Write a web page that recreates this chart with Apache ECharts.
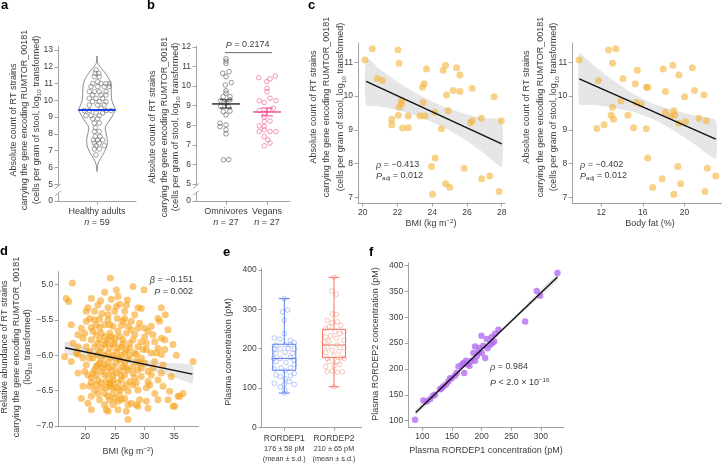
<!DOCTYPE html>
<html><head><meta charset="utf-8">
<script src="https://cdn.jsdelivr.net/npm/echarts@6/dist/echarts.min.js"></script>
<style>html,body{margin:0;padding:0;background:#fff}#c{width:722px;height:465px}</style>
</head><body><div id="c"></div>
<script>
// ---------- DATA ----------
// panel a: healthy adults (log10 cells/g)
const aValues = [11.81,11.61,11.61,11.41,11.41,11.11,11.0,11.0,11.0,11.0,10.82,10.82,10.82,10.82,10.52,10.52,10.52,10.52,10.32,10.32,10.32,10.12,10.12,10.12,9.92,9.92,9.92,9.72,9.72,9.72,9.53,9.39,9.39,9.39,9.39,9.25,9.25,9.09,9.09,9.09,8.90,8.90,8.64,8.64,8.38,8.14,8.14,7.84,7.84,7.64,7.64,7.64,7.45,7.45,7.30,7.30,7.10,7.10,6.75];
const aJitter = [-1,-1.7,1.7,-2.7,2.3,0.7,-4.3,4,9,12.3,-6,0.7,7.3,12.3,-7.7,-2.7,2.3,9,-4.3,4,9,-7.7,-1,5.7,-4.3,2.3,9,-7.7,0.7,7.3,4,-12.7,-7.7,9,14,-1,5.7,-11,-6,2.3,-4.3,0.7,-2.7,2.3,-1.7,-2.7,2.3,-1.7,3,-3.7,0.7,5.7,-2.7,2.3,-1,7.3,-2.7,2.3,-1];
const aViolinY    = [5.76,6.0,6.25,6.55,6.85,7.25,7.65,8.05,8.40,8.73,9.03,9.25,9.43,9.65,10.0,10.4,10.8,11.2,11.6,11.9,12.2,12.64];
const aViolinHalf = [0,0.4,1.2,3.7,6.7,9.7,10.3,9.0,8.3,11.7,15,17,18.5,17,14.8,14.3,14,12.5,8.5,4.5,0.8,0];
const aMedian = 9.43;
const aYTicks = [4,5,6,7,8,9,10,11,12,13];

// panel b: omnivores vs vegans
const bOmniVal = [11.40,11.28,11.16,10.66,10.74,10.48,10.18,10.06,9.76,9.64,9.46,9.46,9.26,9.30,9.12,8.96,8.96,8.70,8.72,8.53,8.11,7.93,8.02,7.77,7.56,6.23,6.25];
const bOmniJit = [0,0,0,-3.3,3,0,5.3,-0.7,0,0,-2.7,4,-5.3,4,0,-5.3,2.3,-2.7,4,0,-6,-6,0,0,0,-2.7,2.7];
const bVeganVal = [10.43,10.52,10.23,10.37,9.89,9.72,9.26,9.26,9.16,9.38,8.75,8.79,8.62,8.87,8.19,8.22,7.97,7.93,7.77,7.68,7.68,7.68,7.42,7.26,7.09,6.95,8.42];
const bVeganJit = [-8.3,8.3,-0.3,3,0,0,-7.7,9,-2.7,3,-7.7,1.7,-2.7,6.3,-2.7,3,-7.7,-2.7,-2.7,-7.7,3,9,-2.7,0.7,3,-2.7,-2.7];
const bMean = [9.09, 8.68];
const bSemLo = [8.88, 8.48];
const bSemHi = [9.30, 8.88];
const bCategories = ['Omnivores', 'Vegans'];
const bCatPos = [30, 71];
const bYTicks = [4.13,5,6,7,8,9,10,11,12];

// panel c: BMI and body fat
const c1X = [20.13,20.55,20.84,21.13,22.03,22.09,21.67,21.67,22.05,22.1,22.24,22.24,22.3,22.62,22.62,23.29,23.58,23.48,23.44,23.54,23.67,24.15,24.53,24.17,23.96,24.02,24.63,24.77,24.82,24.92,24.77,25.01,25.21,25.40,25.59,25.59,25.84,26.3,26.2,26.3,26.83,26.85,27.31,27.56,27.85,27.98];
const c1Y = [11.07,11.40,10.52,10.46,11.36,10.97,9.31,9.15,9.43,9.67,9.86,9.77,9.05,9.41,9.06,9.41,9.41,9.81,10.26,10.36,10.80,9.52,9.03,8.16,7.91,7.09,10.76,10.91,10.03,9.56,7.40,7.30,10.16,10.84,10.62,10.13,7.86,10.23,9.21,9.27,9.34,7.55,7.63,9.98,7.17,9.27];
const c1BandX  = [20.2,21,22,23,24,25,26,27,28];
const c1BandLo = [9.73,9.69,9.58,9.44,9.23,8.98,8.67,8.30,7.90];
const c1BandHi = [11.13,10.79,10.42,10.10,9.83,9.62,9.45,9.34,9.30];
const c1FitX = [20.2, 28];
const c1FitY = [10.43, 8.58];

const c2X = [9.88,11.74,11.58,12.29,12.71,13.41,13.09,13.09,12.96,13.19,14.09,13.90,14.57,15.12,15.28,15.47,15.34,15.83,16.34,16.47,16.34,16.47,16.95,17.85,17.95,18.17,18.17,18.66,18.88,18.98,19.07,19.36,19.46,19.46,19.62,18.98,20.01,20.10,20.97,20.75,21.39,21.87,21.97,22.10,22.19,23.0];
const c2Y = [11.07,10.46,9.04,9.15,11.36,11.40,10.97,9.67,9.43,9.31,10.52,9.86,9.43,9.06,10.36,10.76,9.81,9.76,10.26,10.26,9.03,8.16,7.29,7.55,10.80,10.13,9.52,9.41,10.91,9.56,9.43,7.91,9.19,10.62,7.40,7.09,9.98,9.24,10.16,10.84,9.34,10.03,7.17,9.27,7.86,7.63];
const c2BandX  = [9.9,11,13,15,17,19,21,23];
const c2BandLo = [9.75,9.74,9.66,9.54,9.31,8.97,8.56,8.14];
const c2BandHi = [11.27,10.98,10.50,10.08,9.77,9.57,9.42,9.28];
const c2FitX = [9.9, 23];
const c2FitY = [10.51, 8.72];

// panel d: BMI vs relative abundance
const dPoints = [
[24.23,-4.91],[17.80,-4.98],[28.06,-5.03],[29.92,-5.08],
[25.24,-5.08],[23.27,-5.11],[16.79,-5.20],[17.18,-5.24],[21.02,-5.20],[22.60,-5.23],[24.40,-5.21],[27.11,-5.22],[25.53,-5.17],
[20.45,-5.33],[22.14,-5.29],[25.81,-5.28],[28.91,-5.33],[29.47,-5.34],[23.84,-5.33],[20.17,-5.38],[21.58,-5.38],[22.82,-5.41],[24.96,-5.38],[26.65,-5.38],[33.53,-5.43],[32.29,-5.48],
[17.63,-5.57],[20.74,-5.48],[22.43,-5.49],[23.84,-5.50],[25.41,-5.48],[26.65,-5.48],[27.78,-5.52],[29.19,-5.55],[30.60,-5.66],[31.16,-5.59],[32.57,-5.52],[33.98,-5.64],[21.86,-5.57],[23.27,-5.57],[24.68,-5.59],[26.09,-5.58],[27.22,-5.59],[28.91,-5.62],[30.04,-5.62],[19.33,-5.62],[21.02,-5.61],
[19.89,-5.69],[21.30,-5.66],[22.71,-5.69],[24.12,-5.69],[25.53,-5.66],[26.94,-5.69],[28.35,-5.71],[30.04,-5.74],[31.45,-5.71],[32.85,-5.76],[19.61,-5.76],[21.02,-5.78],[22.43,-5.78],[23.84,-5.78],[24.96,-5.76],[26.37,-5.78],[28.06,-5.78],[29.47,-5.81],[31.73,-5.81],[33.42,-5.78],[34.83,-5.85],
[17.92,-5.83],[18.76,-5.88],[20.17,-5.88],[21.58,-5.88],[23.27,-5.85],[24.68,-5.85],[26.09,-5.88],[27.50,-5.90],[28.91,-5.88],[30.32,-5.92],[32.29,-5.90],[20.74,-5.95],[22.43,-5.95],[23.84,-5.97],[25.24,-5.95],[26.65,-5.97],[28.34,-5.97],[31.16,-5.97],[32.85,-5.99],[16.51,-6.02],[18.76,-5.99],
[17.63,-6.09],[19.61,-6.04],[21.30,-6.04],[22.71,-6.06],[24.40,-6.04],[25.81,-6.06],[27.22,-6.06],[28.63,-6.09],[30.04,-6.11],[31.73,-6.09],[33.14,-6.14],[35.39,-6.00],[38.21,-6.09],[20.17,-6.14],[21.86,-6.16],[23.27,-6.14],[24.68,-6.16],[26.37,-6.16],[28.06,-6.16],[29.47,-6.18],[18.76,-6.25],
[19.89,-6.23],[21.30,-6.25],[22.71,-6.23],[23.84,-6.28],[25.24,-6.25],[26.65,-6.28],[28.06,-6.25],[29.47,-6.30],[31.16,-6.28],[32.85,-6.25],[34.55,-6.30],[21.02,-6.32],[22.14,-6.35],[23.55,-6.37],[24.68,-6.35],[26.09,-6.35],[27.50,-6.37],[28.63,-6.39],[30.60,-6.37],[32.29,-6.35],
[19.61,-6.44],[20.74,-6.44],[21.86,-6.42],[22.71,-6.46],[24.12,-6.44],[25.24,-6.46],[26.37,-6.46],[27.22,-6.51],[28.91,-6.49],[30.32,-6.46],[31.73,-6.54],[33.14,-6.44],[34.26,-6.51],[35.67,-6.58],[36.52,-6.54],[23.27,-6.54],[24.68,-6.54],[25.81,-6.56],[22.14,-6.54],
[19.33,-6.61],[21.02,-6.58],[22.43,-6.63],[24.12,-6.63],[25.53,-6.65],[26.65,-6.61],[27.78,-6.68],[29.19,-6.63],[30.32,-6.65],[32.29,-6.63],[33.98,-6.63],[35.96,-6.58],[20.45,-6.68],[23.27,-6.70],[24.68,-6.70],[27.22,-6.70],[28.63,-6.70],
[21.02,-6.77],[23.55,-6.77],[23.84,-6.79],[25.53,-6.77],[26.94,-6.79],[28.91,-6.72],[30.60,-6.75],[34.83,-6.72],[35.11,-6.72],[27.22,-6.91],
[21.86,-5.71],[23.27,-5.74],[24.40,-5.74],[25.81,-5.74],[22.14,-5.83],[23.55,-5.83],[24.96,-5.83],[26.37,-5.84],[22.71,-5.90],[24.12,-5.90],[25.53,-5.90],[26.94,-5.92],
[22.03,-5.99],[23.27,-6.00],[24.68,-6.00],[26.09,-6.00],[27.50,-6.00],[22.43,-6.11],[23.84,-6.10],[25.24,-6.11],[26.65,-6.11],[21.58,-6.21],[22.99,-6.18],[24.40,-6.21],
[25.81,-6.21],[27.22,-6.21],[21.86,-6.28],[23.27,-6.28],[24.68,-6.29],[26.09,-6.29],[22.71,-6.39],[24.12,-6.39],[25.53,-6.39],[26.94,-6.42],[23.55,-6.46],[24.68,-6.46],
[25.81,-6.49],[23.84,-6.58],[24.96,-6.61],[26.09,-6.63],[21.58,-6.49],[28.35,-6.32],[28.06,-6.42],[29.47,-6.04],[29.75,-5.92],[28.91,-6.21],[20.74,-6.04],[20.45,-6.28],
[21.02,-6.39],[30.60,-6.23],[31.45,-6.18],[30.32,-5.83],[20.17,-5.52],[26.37,-5.52],[28.35,-5.43],[23.84,-5.43],[26.94,-5.29],[25.24,-5.31],[21.58,-5.50],[18.76,-5.71],
[18.48,-5.97],[30.88,-6.42],[32.01,-5.97],[33.42,-5.92],[32.85,-5.33],[27.78,-5.64],[24.12,-5.57],[22.43,-5.61],[28.63,-5.99],[29.19,-6.11],[27.50,-5.83],[25.53,-6.04],
[26.94,-6.18],[23.84,-6.18],[24.40,-6.39],[22.14,-6.14]
];
const dBandX  = [16.6,20,25,30,35,38.1];
const dBandLo = [-5.985,-6.019,-6.076,-6.187,-6.313,-6.397];
const dBandHi = [-5.805,-5.889,-6.004,-6.067,-6.113,-6.137];
const dFitX = [16.6, 38.1];
const dFitY = [-5.895, -6.267];

// panel e: plasma RORDEP1 / RORDEP2
const eCategories = ['RORDEP1', 'RORDEP2'];
const eSummary = ['176 \u00b1 58 pM', '210 \u00b1 65 pM'];
const eCatPos = [22.6, 72.3];
const eBox1 = [87,145,175,211,327];
const eBox2 = [103,177,209,249,381];
const e1Val = [327,293,298,272,238,227,224,221,215,209,210,210,199,199,200,199,188,190,188,175,175,177,171,167,165,160,148,151,151,143,137,133,129,131,123,112,109,109,116,103,94,87];
const e1Jit = [0,-1.7,3.3,0,0,-10,-4.3,6,10,-8.3,0.7,6,-10,-4,4,10,-8.3,0.7,8.3,-10.7,-4,6,10,-8.3,1.7,10,-10,-3.3,6,0.7,10,-8.3,-4,6,0.7,-10,0,10,5,-4,0.7,0];
const e2Val = [381,346,338,288,287,272,266,268,259,251,255,243,243,238,230,232,226,221,217,219,209,204,202,196,190,193,183,175,177,175,167,167,154,156,160,143,141,141,140,103];
const e2Jit = [0,-2.3,2.3,-1.7,2.3,-6.7,-1.7,3.3,6.7,-8.3,-5,1,10,5.7,-8.3,-3.3,2.3,10,-10,-5,3.3,-6.7,10,-1.7,-8.3,5,0,-6.7,6.7,10,-5,3.3,-8.3,0,5.7,-1.7,-6.7,8.3,3.3,0];

// panel f: RORDEP1 vs RORDEP2
const fX = [87.7,101.7,107.4,113,121.5,129.9,135.5,143.9,146.7,149.6,161,166.7,169.3,170.6,173.8,179.5,186.2,189,189,196.4,199.7,200.3,206,208.7,214.4,217.2,221.1,222.8,228.4,273.5,293,298.9,328,155,158,176,183,192,203,210,218,195,140,118,132];
const fY = [101.4,138.8,136.8,141.3,149.8,160.8,166,175.6,182,182.1,204.8,208,211.3,191.9,215.8,206.1,230.6,215.8,243.5,240.3,264,230.6,221,257.7,246.7,261.6,253.2,268,275.8,291.9,351,341.6,385.6,187,192,209,216,225,245,240,250,232,170,148,162];
const fBandX  = [88.9,150,200,250,328];
const fBandLo = [109.5,180,235.4,289.5,370.5];
const fBandHi = [121.5,185,239.4,295,385.3];
const fFitX = [88.9, 328];
const fFitY = [115.5, 377.9];

// ---------- STYLE ----------
const FONT = '"Liberation Sans", Arial, sans-serif';
const TXT = '#3c3c3c';
const AX = '#8c8c8c';
const ORANGE = '#f6a41e';
const BAND = 'rgba(200,200,200,0.45)';

function mkAxis(o) {
  return {
    type: 'value', gridIndex: o.g, min: o.min, max: o.max,
    axisLine: { show: true, onZero: false, lineStyle: { color: AX, width: 0.8 } },
    axisTick: { show: true, inside: false, length: 3.5, customValues: o.ticks, lineStyle: { color: AX, width: 0.8 } },
    axisLabel: Object.assign({ show: true, customValues: o.ticks, formatter: o.fmt, color: TXT, fontSize: 8.5, fontFamily: FONT, margin: o.margin || 4 }, o.label || {}),
    splitLine: { show: false }
  };
}
const labRich = {
  i: { fontStyle: 'italic', fontSize: 9, fontFamily: FONT, color: TXT },
  s: { fontSize: 7.3, fontFamily: FONT, color: TXT, lineHeight: 9.5 }
};
const num = v => String(v);

function bandSeries(g, bx, lo, hi) {
  return { type: 'custom', xAxisIndex: g, yAxisIndex: g, z: 1, silent: true, data: [[bx[0], lo[0]]],
    renderItem: (p, api) => {
      const pts = [];
      for (let i = 0; i < bx.length; i++) pts.push(api.coord([bx[i], hi[i]]));
      for (let i = bx.length - 1; i >= 0; i--) pts.push(api.coord([bx[i], lo[i]]));
      return { type: 'polygon', shape: { points: pts, smooth: 0.15 }, style: { fill: BAND } };
    } };
}
function fitSeries(g, fx, fy) {
  return { type: 'line', xAxisIndex: g, yAxisIndex: g, z: 5, silent: true, showSymbol: false,
    data: fx.map((x, i) => [x, fy[i]]), lineStyle: { color: '#111', width: 1.4 } };
}
function dotSeries(g, data, color, size, opacity) {
  return { type: 'scatter', xAxisIndex: g, yAxisIndex: g, z: 3, silent: true, symbolSize: size,
    data: data, itemStyle: { color: color, opacity: opacity } };
}
function ringSeries(g, data, color, size) {
  return { type: 'scatter', xAxisIndex: g, yAxisIndex: g, z: 3, silent: true, symbolSize: size,
    data: data, itemStyle: { color: 'rgba(255,255,255,0)', borderColor: color, borderWidth: 0.75 } };
}
function breakSeries(g, xmin, hi, lo) {
  return { type: 'custom', xAxisIndex: g, yAxisIndex: g, z: 20, silent: true, data: [[xmin, hi, lo]],
    renderItem: (p, api) => {
      const a = api.coord([api.value(0), api.value(1)]);
      const b = api.coord([api.value(0), api.value(2)]);
      const st = { stroke: AX, lineWidth: 0.8 };
      return { type: 'group', children: [
        { type: 'rect', shape: { x: a[0] - 3, y: a[1], width: 6, height: b[1] - a[1] }, style: { fill: '#fff' } },
        { type: 'line', shape: { x1: a[0] - 3, y1: a[1] + 2.5, x2: a[0] + 3, y2: a[1] - 2.5 }, style: st },
        { type: 'line', shape: { x1: b[0] - 3, y1: b[1] + 2.5, x2: b[0] + 3, y2: b[1] - 2.5 }, style: st }
      ] };
    } };
}

function richFor(fs) {
  const b = { fontFamily: FONT, fill: TXT, color: TXT };
  return {
    i: Object.assign({ fontSize: fs, fontStyle: 'italic' }, b),
    sub: Object.assign({ fontSize: fs * 0.68, lineHeight: fs * 0.68, verticalAlign: 'bottom' }, b),
    sup: Object.assign({ fontSize: fs * 0.68, lineHeight: fs * 0.68, verticalAlign: 'top' }, b)
  };
}
function txt(x, y, text, o) {
  o = o || {};
  const fs = o.fs || 9;
  const al = o.align || 'center', va = o.va || 'middle';
  return { type: 'text', x: x, y: y, rotation: o.rot || 0, silent: true, z: 100,
    style: { text: text, fill: o.color || TXT, fontSize: fs, fontFamily: FONT, fontWeight: o.fw || 'normal',
      align: al, verticalAlign: va, textAlign: al, textVerticalAlign: va,
      lineHeight: o.lh || Math.round(fs * 1.3), rich: richFor(fs) } };
}
const R90 = Math.PI / 2;
const yTitle1 = 'Absolute count of RT strains\ncarrying the gene encoding RUMTOR_00181\n(cells per gram of stool, log{sub|10} transformed)';

// ---------- OPTION ----------
const option = {
  animation: false,
  backgroundColor: '#fff',
  textStyle: { fontFamily: FONT },
  grid: [
    { left: 58, top: 46.65, width: 78, height: 154.35, outerBoundsMode: 'none', containLabel: false },
    { left: 196, top: 46, width: 94, height: 155, outerBoundsMode: 'none', containLabel: false },
    { left: 358, top: 43, width: 147, height: 160, outerBoundsMode: 'none', containLabel: false },
    { left: 572.3, top: 43, width: 149.7, height: 160, outerBoundsMode: 'none', containLabel: false },
    { left: 58.3, top: 271.7, width: 140, height: 155, outerBoundsMode: 'none', containLabel: false },
    { left: 261.7, top: 268.3, width: 100, height: 159, outerBoundsMode: 'none', containLabel: false },
    { left: 408.3, top: 263, width: 155.7, height: 164.3, outerBoundsMode: 'none', containLabel: false }
  ],
  xAxis: [
    mkAxis({ g: 0, min: -39, max: 39, ticks: [0], fmt: () => 'Healthy adults\n{i|n} = 59', margin: 5, label: { fontSize: 9, lineHeight: 11, rich: labRich } }),
    mkAxis({ g: 1, min: 0, max: 94, ticks: bCatPos, fmt: v => (v === bCatPos[0] ? bCategories[0] : bCategories[1]) + '\n{i|n} = 27', margin: 5, label: { fontSize: 9, lineHeight: 11, rich: labRich } }),
    mkAxis({ g: 2, min: 19.73, max: 28.19, ticks: [20,22,24,26,28], fmt: num, margin: 5 }),
    mkAxis({ g: 3, min: 9.23, max: 23.6, ticks: [12,16,20], fmt: num, margin: 5 }),
    mkAxis({ g: 4, min: 15.44, max: 39.1, ticks: [20,25,30,35], fmt: num, margin: 5 }),
    mkAxis({ g: 5, min: 0, max: 100, ticks: eCatPos, fmt: v => { const k = v === eCatPos[0] ? 0 : 1; return eCategories[k] + '\n{s|' + eSummary[k] + '}\n{s|(mean \u00b1 s.d.)}'; }, margin: 5, label: { fontSize: 8.5, lineHeight: 12, rich: labRich } }),
    mkAxis({ g: 6, min: 76.3, max: 339, ticks: [100,150,200,250,300], fmt: num, margin: 5 })
  ],
  yAxis: [
    mkAxis({ g: 0, min: 4, max: 13.2, ticks: aYTicks, fmt: v => (v < 4.5 ? '0' : String(v)), margin: 5 }),
    mkAxis({ g: 1, min: 4.13, max: 12.05, ticks: bYTicks, fmt: v => (v < 4.5 ? '0' : String(v)), margin: 5 }),
    mkAxis({ g: 2, min: 6.83, max: 11.57, ticks: [7,8,9,10,11], fmt: num, margin: 5 }),
    mkAxis({ g: 3, min: 6.83, max: 11.57, ticks: [7,8,9,10,11], fmt: num, margin: 5 }),
    mkAxis({ g: 4, min: -7.01, max: -4.82, ticks: [-7,-6.5,-6,-5.5,-5], fmt: v => (v === -5 ? '5.0' : v.toFixed(1).replace('-', '\u2212')), margin: 5 }),
    mkAxis({ g: 5, min: 0, max: 404, ticks: [0,100,200,300,400], fmt: num, margin: 5 }),
    mkAxis({ g: 6, min: 87, max: 405, ticks: [100,150,200,250,300,350,400], fmt: num, margin: 5 })
  ],
  series: [
    // ---- a ----
    { type: 'custom', xAxisIndex: 0, yAxisIndex: 0, z: 2, silent: true, data: [[0, aMedian]],
      renderItem: (p, api) => {
        const pts = [];
        for (let i = 0; i < aViolinY.length; i++) pts.push(api.coord([aViolinHalf[i], aViolinY[i]]));
        for (let i = aViolinY.length - 1; i >= 0; i--) pts.push(api.coord([-aViolinHalf[i], aViolinY[i]]));
        return { type: 'polygon', shape: { points: pts, smooth: 0.25 }, style: { fill: '#fff', stroke: '#5a5a5a', lineWidth: 0.7 } };
      } },
    ringSeries(0, aValues.map((v, i) => [aJitter[i], v]), '#6a6a6a', 4.6),
    { type: 'custom', xAxisIndex: 0, yAxisIndex: 0, z: 6, silent: true, data: [[0, aMedian]],
      renderItem: (p, api) => {
        const l = api.coord([-18.5, api.value(1)]), r = api.coord([18.5, api.value(1)]);
        return { type: 'line', shape: { x1: l[0], y1: l[1], x2: r[0], y2: r[1] }, style: { stroke: '#1d3fe6', lineWidth: 2 } };
      } },
    breakSeries(0, -39, 4.88, 4.46),
    // ---- b ----
    ringSeries(1, bOmniVal.map((v, i) => [bCatPos[0] + bOmniJit[i], v]), '#555', 4.6),
    ringSeries(1, bVeganVal.map((v, i) => [bCatPos[1] + bVeganJit[i], v]), '#ef5592', 4.6),
    { type: 'custom', xAxisIndex: 1, yAxisIndex: 1, z: 6, silent: true,
      data: bMean.map((m, i) => [bCatPos[i], m, bSemLo[i], bSemHi[i]]),
      renderItem: (p, api) => {
        const col = p.dataIndex === 0 ? '#222' : '#ee4a8a';
        const x = api.value(0);
        const pm = api.coord([x, api.value(1)]), pl = api.coord([x, api.value(2)]), ph = api.coord([x, api.value(3)]);
        const st = { stroke: col, lineWidth: 1 };
        return { type: 'group', children: [
          { type: 'line', shape: { x1: pm[0] - 14, y1: pm[1], x2: pm[0] + 14, y2: pm[1] }, style: { stroke: col, lineWidth: 1.4 } },
          { type: 'line', shape: { x1: pl[0], y1: pl[1], x2: ph[0], y2: ph[1] }, style: st },
          { type: 'line', shape: { x1: pl[0] - 6, y1: pl[1], x2: pl[0] + 6, y2: pl[1] }, style: st },
          { type: 'line', shape: { x1: ph[0] - 6, y1: ph[1], x2: ph[0] + 6, y2: ph[1] }, style: st }
        ] };
      } },
    { type: 'custom', xAxisIndex: 1, yAxisIndex: 1, z: 6, silent: true, data: [[29, 11.71, 76]],
      renderItem: (p, api) => {
        const a = api.coord([api.value(0), api.value(1)]), b = api.coord([api.value(2), api.value(1)]);
        return { type: 'line', shape: { x1: a[0], y1: a[1], x2: b[0], y2: b[1] }, style: { stroke: '#444', lineWidth: 0.8 } };
      } },
    breakSeries(1, 0, 4.9, 4.54),
    // ---- c ----
    bandSeries(2, c1BandX, c1BandLo, c1BandHi),
    dotSeries(2, c1X.map((x, i) => [x, c1Y[i]]), '#f5b43a', 7, 0.6),
    fitSeries(2, c1FitX, c1FitY),
    bandSeries(3, c2BandX, c2BandLo, c2BandHi),
    dotSeries(3, c2X.map((x, i) => [x, c2Y[i]]), '#f5b43a', 7, 0.6),
    fitSeries(3, c2FitX, c2FitY),
    // ---- d ----
    bandSeries(4, dBandX, dBandLo, dBandHi),
    dotSeries(4, dPoints, ORANGE, 7, 0.6),
    fitSeries(4, dFitX, dFitY),
    // ---- e ----
    { type: 'custom', xAxisIndex: 5, yAxisIndex: 5, z: 4, silent: true,
      data: [[eCatPos[0]].concat(eBox1), [eCatPos[1]].concat(eBox2)],
      renderItem: (p, api) => {
        const col = p.dataIndex === 0 ? '#5b7cf0' : '#f2755e';
        const x = api.value(0);
        const c = k => api.coord([x, api.value(k)]);
        const mn = c(1), q1 = c(2), md = c(3), q3 = c(4), mx = c(5);
        const hw = 11.5, cw = 5.5;
        const st = { stroke: col, lineWidth: 1, fill: 'none' };
        return { type: 'group', children: [
          { type: 'rect', shape: { x: q3[0] - hw, y: q3[1], width: 2 * hw, height: q1[1] - q3[1] }, style: { stroke: col, lineWidth: 1, fill: 'rgba(0,0,0,0)' } },
          { type: 'line', shape: { x1: md[0] - hw, y1: md[1], x2: md[0] + hw, y2: md[1] }, style: st },
          { type: 'line', shape: { x1: q3[0], y1: q3[1], x2: mx[0], y2: mx[1] }, style: st },
          { type: 'line', shape: { x1: q1[0], y1: q1[1], x2: mn[0], y2: mn[1] }, style: st },
          { type: 'line', shape: { x1: mx[0] - cw, y1: mx[1], x2: mx[0] + cw, y2: mx[1] }, style: st },
          { type: 'line', shape: { x1: mn[0] - cw, y1: mn[1], x2: mn[0] + cw, y2: mn[1] }, style: st }
        ] };
      } },
    ringSeries(5, e1Val.map((v, i) => [eCatPos[0] + e1Jit[i], v]), 'rgba(91,124,240,0.7)', 4.6),
    ringSeries(5, e2Val.map((v, i) => [eCatPos[1] + e2Jit[i], v]), 'rgba(242,117,94,0.7)', 4.6),
    // ---- f ----
    bandSeries(6, fBandX, fBandLo, fBandHi),
    dotSeries(6, fX.map((x, i) => [x, fY[i]]), '#b46ef0', 6.5, 0.8),
    fitSeries(6, fFitX, fFitY)
  ],
  graphic: [
    // panel letters
    txt(1, 5.5, 'a', { fs: 13, fw: 'bold', align: 'left', color: '#000' }),
    txt(147, 5.5, 'b', { fs: 13, fw: 'bold', align: 'left', color: '#000' }),
    txt(308, 5.5, 'c', { fs: 13, fw: 'bold', align: 'left', color: '#000' }),
    txt(0, 251.5, 'd', { fs: 13, fw: 'bold', align: 'left', color: '#000' }),
    txt(223, 252, 'e', { fs: 13, fw: 'bold', align: 'left', color: '#000' }),
    txt(369, 252.5, 'f', { fs: 13, fw: 'bold', align: 'left', color: '#000' }),
    // y titles
    txt(24.8, 120, yTitle1, { rot: R90, lh: 11.5 }),
    txt(164.3, 127, yTitle1, { rot: R90, lh: 11.5 }),
    txt(327, 107, yTitle1, { rot: R90, lh: 13.5 }),
    txt(540.5, 107, yTitle1, { rot: R90, lh: 13.5 }),
    txt(16.4, 347, 'Relative abundance of RT strains\ncarrying the gene encoding RUMTOR_00181\n(log{sub|10} transformed)', { rot: R90, lh: 11.5 }),
    txt(229, 352, 'Plasma concentration (pM)', { rot: R90, lh: 12 }),
    txt(376, 344, 'Plasma RORDEP2 concentration (pM)', { rot: R90, lh: 12 }),
    // x titles
    txt(431, 224, 'BMI (kg m{sup|\u22122})', { lh: 12 }),
    txt(650, 224, 'Body fat (%)', { lh: 12 }),
    txt(128, 452, 'BMI (kg m{sup|\u22122})', { lh: 12 }),
    txt(486, 451, 'Plasma RORDEP1 concentration (pM)', { lh: 12 }),
    // stats
    txt(247.7, 45, '{i|P} = 0.2174', { lh: 12 }),
    txt(376, 165, '{i|\u03c1} = \u22120.413', { align: 'left', lh: 11 }),
    txt(376, 176, '{i|P}{sub|adj} = 0.012', { align: 'left', lh: 11 }),
    txt(580, 165, '{i|\u03c1} = \u22120.402', { align: 'left', lh: 11 }),
    txt(580, 176, '{i|P}{sub|adj} = 0.012', { align: 'left', lh: 11 }),
    txt(193, 280, '{i|\u03b2} = \u22120.151', { align: 'right', lh: 11 }),
    txt(193, 292, '{i|P} = 0.002', { align: 'right', lh: 11 }),
    txt(490, 367, '{i|\u03c1} = 0.984', { align: 'left', lh: 11 }),
    txt(490, 383, '{i|P} < 2.0 \u00d7 10{sup|\u221216}', { align: 'left', lh: 11 })
  ]
};
const chart = echarts.init(document.getElementById('c'), null, { renderer: 'canvas' });
chart.setOption(option);
</script></body></html>
